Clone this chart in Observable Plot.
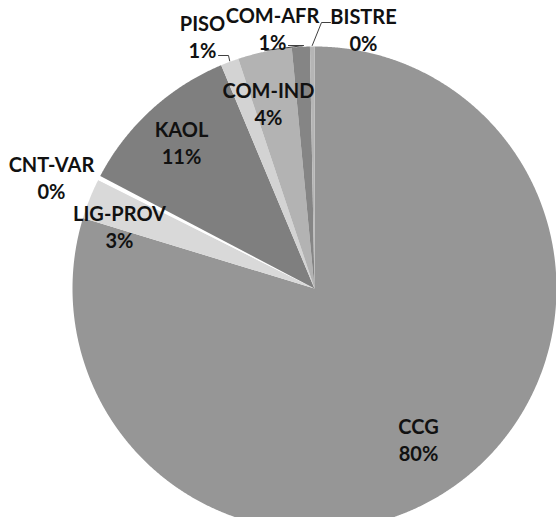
<!DOCTYPE html>
<html><head><meta charset="utf-8">
<script src="https://cdn.jsdelivr.net/npm/d3@7"></script>
<script src="https://cdn.jsdelivr.net/npm/@observablehq/plot@0.6"></script>
<style>body{margin:0;background:#fff}</style>
</head><body><div id="chart"></div>
<script>
// ---- data ----
const categories = ["CCG","LIG-PROV","CNT-VAR","KAOL","PISO","COM-IND","COM-AFR","BISTRE"];
const shares = [79.7, 2.7, 0.3, 11.0, 1.2, 3.6, 1.2, 0.3];
const sliceColors = ["#969696","#d9d9d9","#ffffff","#7f7f7f","#d3d3d3","#b3b3b3","#858585","#b5b5b5"];

// ---- layout (chart units, origin at pie centre, y up) ----
const R = 242;
const labelX = [104, -195, -263, -133, -112, -46, -42, 49];
const labelY = [-150, 63, 112, 147, 253, 186, 261, 260];
const leaderStartX = [null, null, null, null, -96, -26, 16];
const leaderStartY = [null, null, null, null, 233, 243, 266];
const leaderElbowX = [null, null, null, null, -86, -11, 7];
const leaderElbowY = [null, null, null, null, 233, 243, 266];
leaderStartX.splice(6, 1, -26, 16); leaderStartY.splice(6, 1, 243, 266);
leaderElbowX.splice(6, 1, -11, 7); leaderElbowY.splice(6, 1, 243, 266);

const total = d3.sum(shares);
const arcs = d3.pie().sort(null).value(d => d)(shares);

// polygon points of each slice, derived from the pie angles
const pts = [];
arcs.forEach((a, i) => {
  const name = categories[i];
  pts.push({name, x: 0, y: 0});
  const n = Math.max(2, Math.ceil((a.endAngle - a.startAngle) / (Math.PI / 720)));
  for (let k = 0; k <= n; k++) {
    const t = a.startAngle + (a.endAngle - a.startAngle) * k / n;
    pts.push({name, x: R * Math.sin(t), y: R * Math.cos(t)});
  }
  pts.push({name, x: 0, y: 0});
});

const labels = categories.map((c, i) => ({
  text: c + "\n" + Math.round(shares[i] / total * 100) + "%",
  x: labelX[i], y: labelY[i]
}));

const leaders = [];
arcs.forEach((a, i) => {
  if (leaderStartX[i] == null) return;
  const mid = (a.startAngle + a.endAngle) / 2;
  const id = categories[i];
  leaders.push({id, x: leaderStartX[i], y: leaderStartY[i]});
  leaders.push({id, x: leaderElbowX[i], y: leaderElbowY[i]});
  leaders.push({id, x: R * Math.sin(mid), y: R * Math.cos(mid) + 1});
});

const chart = Plot.plot({
  width: 556,
  height: 517,
  margin: 0,
  x: {domain: [-314, 242], range: [0, 556], axis: null},
  y: {domain: [-229, 288], range: [517, 0], axis: null},
  color: {domain: categories, range: sliceColors},
  style: {background: "#fff"},
  marks: [
    Plot.line(pts, {x: "x", y: "y", z: "name", fill: "name", stroke: "none", curve: "linear-closed"}),
    Plot.line(leaders, {x: "x", y: "y", z: "id", stroke: "#404040", strokeWidth: 1}),
    Plot.text(labels, {
      x: "x", y: "y", text: "text",
      fontSize: 20, fontWeight: "bold", fontFamily: "Lato, 'Open Sans', sans-serif",
      lineHeight: 1.38, fill: "#111"
    })
  ]
});
document.getElementById("chart").appendChild(chart);
</script>
</body></html>
